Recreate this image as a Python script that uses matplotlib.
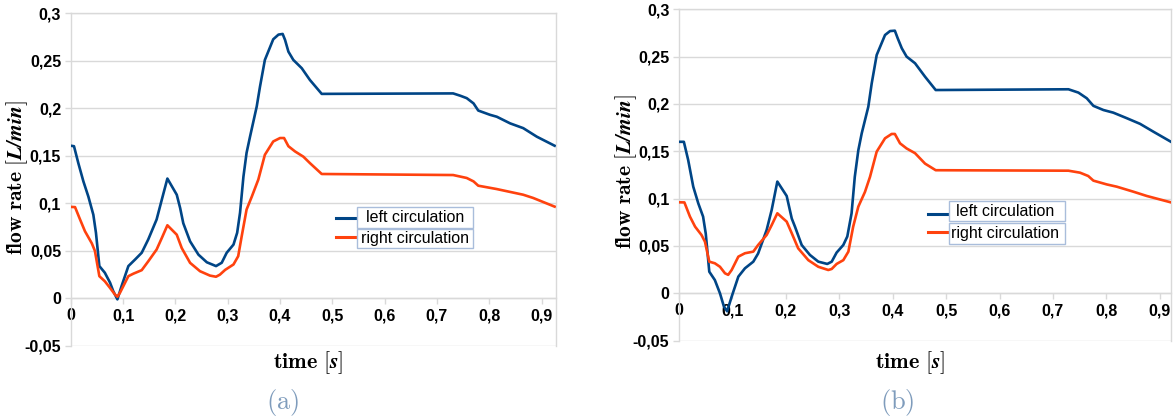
import matplotlib
matplotlib.use("Agg")
import matplotlib.pyplot as plt
from matplotlib.patches import Rectangle
from matplotlib.lines import Line2D
from matplotlib.ticker import FixedLocator, FuncFormatter

plt.rcParams['mathtext.fontset'] = 'cm'

# ---------------- data (a) ----------------
t_a_left = [0.000, 0.006, 0.0144, 0.024, 0.0335, 0.043, 0.048, 0.0545, 0.065, 0.075, 0.081, 0.089,
            0.097, 0.110, 0.123, 0.1355, 0.148, 0.164, 0.174, 0.1846, 0.2025, 0.209, 0.215, 0.228,
            0.244, 0.260, 0.2776, 0.2885, 0.298, 0.311, 0.318, 0.3235, 0.330, 0.336, 0.3426, 0.3554,
            0.3617, 0.371, 0.387, 0.397, 0.405, 0.4096, 0.416, 0.4254, 0.4415, 0.457, 0.4797, 0.731,
            0.745, 0.757, 0.770, 0.779, 0.8015, 0.8144, 0.840, 0.865, 0.891, 0.925]
q_a_left = [0.1605, 0.160, 0.142, 0.123, 0.107, 0.088, 0.069, 0.034, 0.027, 0.0165, 0.0077, -0.001,
            0.013, 0.034, 0.041, 0.048, 0.062, 0.083, 0.104, 0.126, 0.109, 0.095, 0.079, 0.060,
            0.046, 0.038, 0.034, 0.0375, 0.048, 0.0566, 0.069, 0.090, 0.128, 0.153, 0.170, 0.2017,
            0.2227, 0.2507, 0.2724, 0.2773, 0.278, 0.2717, 0.2594, 0.2507, 0.242, 0.2297, 0.215, 0.2155,
            0.213, 0.2105, 0.205, 0.1975, 0.193, 0.191, 0.184, 0.179, 0.170, 0.1605]

t_a_right = [0.000, 0.008, 0.0176, 0.027, 0.040, 0.046, 0.0545, 0.065, 0.075, 0.0845, 0.089, 0.094,
             0.110, 0.1195, 0.1355, 0.148, 0.164, 0.174, 0.1846, 0.2025, 0.212, 0.228, 0.247, 0.266,
             0.2776, 0.285, 0.295, 0.311, 0.320, 0.3267, 0.336, 0.346, 0.3585, 0.371, 0.387, 0.400,
             0.4077, 0.416, 0.4287, 0.4446, 0.457, 0.4797, 0.731, 0.757, 0.770, 0.779, 0.814, 0.865,
             0.884, 0.925]
q_a_right = [0.0962, 0.096, 0.083, 0.0706, 0.058, 0.050, 0.0234, 0.018, 0.011, 0.004, 0.0018, 0.006,
             0.0234, 0.026, 0.0297, 0.039, 0.0514, 0.0636, 0.0769, 0.067, 0.053, 0.0374, 0.0286, 0.024,
             0.0228, 0.025, 0.030, 0.0357, 0.0444, 0.0654, 0.0934, 0.107, 0.125, 0.151, 0.165, 0.1686,
             0.1686, 0.160, 0.1545, 0.149, 0.1423, 0.1308, 0.1297, 0.1266, 0.123, 0.1185, 0.115, 0.109,
             0.1056, 0.0965]

# ---------------- data (b) ----------------
t_b_left = [0.000, 0.009, 0.017, 0.0266, 0.036, 0.045, 0.050, 0.0566, 0.067, 0.0766, 0.084, 0.090,
            0.0985, 0.111, 0.1234, 0.139, 0.148, 0.164, 0.1734, 0.184, 0.2015, 0.211, 0.217, 0.2296,
            0.245, 0.2607, 0.2775, 0.2858, 0.295, 0.3075, 0.315, 0.323, 0.329, 0.3356, 0.342, 0.3543,
            0.3607, 0.370, 0.3856, 0.395, 0.404, 0.4094, 0.417, 0.426, 0.4418, 0.4605, 0.4805, 0.729,
            0.7476, 0.7633, 0.7757, 0.7944, 0.813, 0.838, 0.863, 0.888, 0.921]
q_b_left = [0.160, 0.160, 0.141, 0.1126, 0.095, 0.081, 0.063, 0.0228, 0.014, 0.000, -0.014, -0.019,
            -0.0036, 0.0176, 0.0264, 0.0334, 0.042, 0.0669, 0.088, 0.118, 0.1028, 0.079, 0.0704, 0.051,
            0.0405, 0.0334, 0.031, 0.0334, 0.043, 0.051, 0.060, 0.0845, 0.123, 0.151, 0.169, 0.197,
            0.2218, 0.2517, 0.2728, 0.277, 0.2774, 0.2693, 0.2588, 0.250, 0.243, 0.2288, 0.2147, 0.2155,
            0.212, 0.206, 0.198, 0.1936, 0.1908, 0.185, 0.179, 0.1707, 0.160]

t_b_right = [0.000, 0.010, 0.0204, 0.030, 0.042, 0.0485, 0.0566, 0.067, 0.0766, 0.086, 0.092, 0.0985,
             0.111, 0.1234, 0.139, 0.148, 0.164, 0.1734, 0.184, 0.2015, 0.211, 0.223, 0.242, 0.2607,
             0.2794, 0.2858, 0.295, 0.3075, 0.317, 0.326, 0.3356, 0.348, 0.3575, 0.370, 0.3856, 0.398,
             0.404, 0.4137, 0.426, 0.4418, 0.4605, 0.4805, 0.729, 0.7507, 0.766, 0.7757, 0.8007, 0.8195,
             0.8506, 0.8756, 0.921]
q_b_right = [0.0961, 0.096, 0.081, 0.0704, 0.0616, 0.0545, 0.0334, 0.0317, 0.028, 0.0211, 0.0195, 0.0246,
             0.0387, 0.0423, 0.044, 0.051, 0.0616, 0.072, 0.0845, 0.0757, 0.0634, 0.0475, 0.035, 0.028,
             0.0246, 0.0257, 0.031, 0.035, 0.044, 0.0704, 0.0915, 0.107, 0.123, 0.1496, 0.1637, 0.1683,
             0.1683, 0.1584, 0.153, 0.148, 0.137, 0.130, 0.1295, 0.1274, 0.1239, 0.119, 0.115, 0.1126,
             0.1073, 0.1028, 0.096]

x_ticks = [0.0, 0.1, 0.2, 0.3, 0.4, 0.5, 0.6, 0.7, 0.8, 0.9]
y_ticks = [-0.05, 0.0, 0.05, 0.1, 0.15, 0.2, 0.25, 0.3]
series_names = ["left circulation", "right circulation"]
captions = ["(a)", "(b)"]

BLUE = "#004586"
ORANGE = "#ff420e"
GRID = "#d9d9d9"
BOXC = "#a9bddb"


def fmt(v, pos):
    s = ("%.2f" % v).rstrip("0").rstrip(".")
    if s in ("-0", ""):
        s = "0"
    return s.replace(".", ",")


def build(bold_cmd):
    fig = plt.figure(figsize=(11.73, 4.20), dpi=100)

    panels = [
        dict(rect=[0.0604, 0.1762, 0.4133, 0.7928], xmax=0.927,
             data=[(t_a_left, q_a_left), (t_a_right, q_a_right)],
             ylab=(-0.110, 0.507), xlab=(0.489, -0.051),
             leg_line=(0.547, 0.586, [0.384, 0.327]),
             leg_box=(0.591, 0.830, [(0.354, 0.418), (0.294, 0.352)]),
             leg_text=(0.710, [0.386, 0.323]),
             cap=(283 / 1173, 1 - 403 / 420)),
        dict(rect=[0.5789, 0.1890, 0.4194, 0.7889], xmax=0.921,
             data=[(t_b_left, q_b_left), (t_b_right, q_b_right)],
             ylab=(-0.107, 0.51), xlab=(0.469, -0.066),
             leg_line=(0.506, 0.545, [0.381, 0.327]),
             leg_box=(0.549, 0.785, [(0.361, 0.421), (0.293, 0.354)]),
             leg_text=(0.6625, [0.391, 0.323]),
             cap=(897 / 1173, 1 - 403 / 420)),
    ]

    for p, cap in zip(panels, captions):
        ax = fig.add_axes(p["rect"])
        (tl, ql), (tr, qr) = p["data"]
        ax.plot(tl, ql, color=BLUE, lw=1.9, zorder=3, solid_joinstyle="round")
        ax.plot(tr, qr, color=ORANGE, lw=1.9, zorder=3, solid_joinstyle="round")
        ax.set_xlim(0, p["xmax"])
        ax.set_ylim(-0.05, 0.3)
        ax.yaxis.set_major_locator(FixedLocator(y_ticks))
        ax.xaxis.set_major_locator(FixedLocator(x_ticks))
        ax.yaxis.set_major_formatter(FuncFormatter(fmt))
        ax.xaxis.set_major_formatter(FuncFormatter(fmt))
        ax.grid(axis="y", color=GRID, lw=1.0, zorder=0)
        ax.set_axisbelow(True)
        for s in ax.spines.values():
            s.set_color(GRID)
            s.set_linewidth(1.0)
        ax.spines["bottom"].set_position(("data", 0))
        ax.tick_params(axis="both", colors=GRID, length=4, width=1.0,
                       labelcolor="black", labelsize=11.5)
        ax.tick_params(axis="y", pad=3)
        ax.tick_params(axis="x", pad=3)
        for lab in ax.get_xticklabels() + ax.get_yticklabels():
            lab.set_fontfamily("Liberation Sans")
            lab.set_fontweight("bold")

        ax.set_ylabel(r"$\mathbf{flow\ rate}\ [" + bold_cmd + r"{L/min}]$", fontsize=15.5,
                      ha="center", va="center")
        ax.yaxis.set_label_coords(*p["ylab"])
        ax.set_xlabel(r"$\mathbf{time}\ [" + bold_cmd + r"{s}]$", fontsize=16,
                      ha="center", va="center")
        ax.xaxis.set_label_coords(*p["xlab"])

        # legend
        x0, x1, ys = p["leg_line"]
        bx0, bx1, boxes = p["leg_box"]
        tx, tys = p["leg_text"]
        for col, y, (b0, b1), ty, name in zip([BLUE, ORANGE], ys, boxes, tys, series_names):
            ax.add_line(Line2D([x0, x1], [y, y], transform=ax.transAxes, color=col, lw=2.2, zorder=5))
            ax.add_patch(Rectangle((bx0, b0), bx1 - bx0, b1 - b0, transform=ax.transAxes,
                                   facecolor="white", edgecolor=BOXC, lw=1.0, zorder=5))
            ax.text(tx, ty, name, transform=ax.transAxes, ha="center", va="center",
                    fontsize=11.5, family="Liberation Sans", color="black", zorder=6)

        fig.text(p["cap"][0], p["cap"][1], r"$\mathrm{" + cap + "}$", ha="center", va="center",
                 fontsize=19, color="#7f9cbc")
    return fig


try:
    fig = build(r"\mathbfit")
    fig.canvas.draw()
except Exception:
    plt.close("all")
    fig = build(r"\boldsymbol")

fig.savefig("out.png", dpi=100)
